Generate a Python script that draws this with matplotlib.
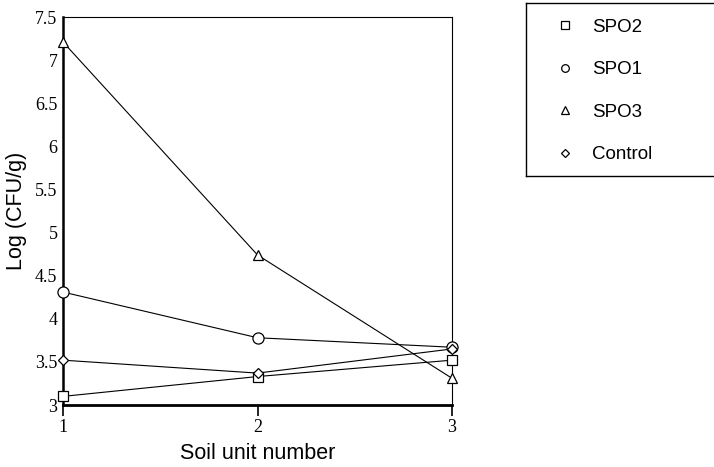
import matplotlib
matplotlib.use("Agg")
import matplotlib.pyplot as plt
from matplotlib.lines import Line2D

soil_units = [1, 2, 3]
spo2 = [3.10, 3.33, 3.52]
spo1 = [4.31, 3.78, 3.67]
spo3 = [7.21, 4.74, 3.31]
control = [3.52, 3.37, 3.65]
y_ticks = [3, 3.5, 4, 4.5, 5, 5.5, 6, 6.5, 7, 7.5]
y_tick_labels = ["3", "3.5", "4", "4.5", "5", "5.5", "6", "6.5", "7", "7.5"]

series = [("SPO2", spo2, "s"), ("SPO1", spo1, "o"), ("SPO3", spo3, "^"), ("Control", control, "D")]

fig = plt.figure(figsize=(7.14, 4.67), dpi=100)
ax = fig.add_axes([63/714, 1-405/467, (452-63)/714, (405-17)/467])

sizes = {"s": 7, "o": 8, "^": 7, "D": 5}
for name, vals, mk in series:
    ax.plot(soil_units, vals, color="black", lw=0.8, marker=mk, ms=sizes[mk],
            mfc="white", mec="black", mew=0.9, clip_on=False, zorder=3)

ax.set_xlim(1, 3)
ax.set_ylim(3, 7.5)
ax.set_xticks(soil_units)
ax.set_xticklabels([str(v) for v in soil_units], fontfamily="Liberation Serif", fontsize=13)
ax.set_yticks(y_ticks)
ax.set_yticklabels(y_tick_labels, fontfamily="Liberation Serif", fontsize=13)
ax.tick_params(axis="x", direction="out", length=8, width=1.2, pad=2)
ax.tick_params(axis="y", direction="in", length=0, pad=4)
for s in ["top", "right"]:
    ax.spines[s].set_linewidth(0.8)
ax.spines["left"].set_linewidth(1.8)
ax.spines["bottom"].set_linewidth(2.0)

ax.set_xlabel("Soil unit number", fontfamily="Liberation Sans", fontsize=15.5, labelpad=5)
ax.set_ylabel("Log (CFU/g)", fontfamily="Liberation Sans", fontsize=15.5, labelpad=6)

# legend box
lax = fig.add_axes([526/714, 1-176/467, (714-526)/714 + 0.02, (176-3)/467])
lax.set_xticks([])
lax.set_yticks([])
for s in lax.spines.values():
    s.set_linewidth(1.0)
leg_sizes = {"s": 6, "o": 5.5, "^": 5.5, "D": 4.5}
handles = [Line2D([], [], ls="none", marker=mk, ms=leg_sizes[mk], mfc="white", mec="black", mew=0.9)
           for _, _, mk in series]
labels = [name for name, _, _ in series]
lax.legend(handles, labels, loc="upper left", bbox_to_anchor=(0.07, 1.0), frameon=False,
           prop={"family": "Liberation Sans", "size": 13.5}, labelspacing=1.35,
           handlelength=1.0, handletextpad=0.9, borderaxespad=0.45)

fig.savefig("out.png", dpi=100)
